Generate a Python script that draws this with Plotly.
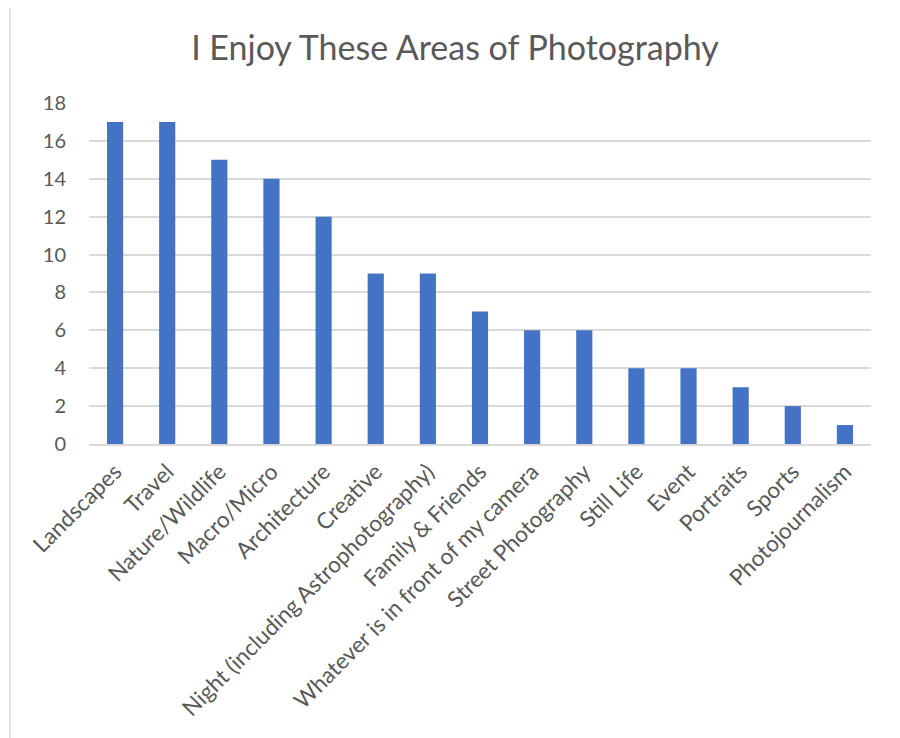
import plotly.graph_objects as go

categories = ["Landscapes", "Travel", "Nature/Wildlife", "Macro/Micro", "Architecture",
              "Creative", "Night (including Astrophotography)", "Family & Friends",
              "Whatever is in front of my camera", "Street Photography", "Still Life",
              "Event", "Portraits", "Sports", "Photojournalism"]
values = [17, 17, 15, 14, 12, 9, 9, 7, 6, 6, 4, 4, 3, 2, 1]
y_ticks = [0, 2, 4, 6, 8, 10, 12, 14, 16, 18]

OFF = 8  # page body margin
W, H = 900 - OFF, 738 - OFF
L, R, T, B = 89 - OFF, 871 - OFF, 103 - OFF, 444 - OFF

fig = go.Figure(go.Bar(x=categories, y=values, marker_color="#4472C4",
                       marker_line_width=0, width=0.31))

pw, ph = R - L, B - T
def px(x): return (x - OFF - L) / pw
def py(y): return (B - (y - OFF)) / ph

fig.update_layout(
    width=W, height=H,
    margin=dict(l=L, r=W - R, t=T, b=H - B, pad=0),
    paper_bgcolor="white", plot_bgcolor="white",
    font=dict(family="Lato", color="#595959"),
    title=dict(text="I Enjoy These Areas of Photography", x=(455 - OFF) / W, xanchor="center",
               y=1 - (48 - OFF) / H, yanchor="middle", yref="container",
               font=dict(size=34, color="#595959", family="Lato")),
    showlegend=False,
    xaxis=dict(tickangle=-45, tickfont=dict(size=22.5, color="#595959", family="Lato"),
               showgrid=False, showline=True, linecolor="#D9D9D9", linewidth=1.5,
               ticks="", automargin=False, ticklabelstandoff=4),
    yaxis=dict(range=[0, 18], tickvals=y_ticks, showgrid=True, gridcolor="#D9D9D9",
               gridwidth=1.5, zeroline=False, showline=False, ticks="",
               tickfont=dict(size=20, color="#595959", family="Lato"), ticklabelstandoff=22,
               automargin=False),
    shapes=[dict(type="rect", xref="paper", yref="paper",
                 x0=px(10), x1=px(898), y0=py(760), y1=py(5),
                 line=dict(color="#D9D9D9", width=1.5), layer="below")],
)

fig.write_html("out.html")
